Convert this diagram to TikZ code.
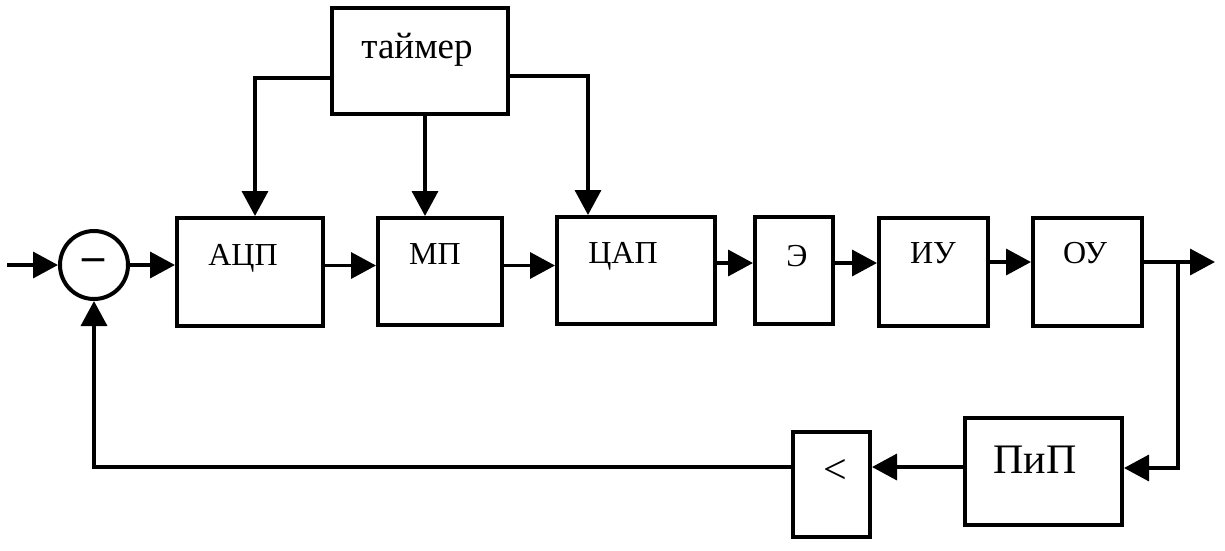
\documentclass[tikz,border=0pt]{standalone}
\usepackage{fontspec}
\setmainfont{Liberation Serif}
\usetikzlibrary{arrows.meta}
\begin{document}
\begin{tikzpicture}[x=1pt,y=-1pt,
  blk/.style={draw, line width=4pt, rectangle, inner sep=0pt},
  arr/.style={line width=3.5pt, -{Triangle[length=25pt,width=26pt]}},
  lbl/.style={anchor=base, inner sep=0pt, font=\fontsize{32}{36}\selectfont},
  big/.style={anchor=base, inner sep=0pt, font=\fontsize{42}{46}\selectfont}]
\useasboundingbox (0,0) rectangle (1225,550);
% blocks
\node[blk, minimum width=146pt, minimum height=108pt] (adc) at (250,272) {};
\node[blk, minimum width=124pt, minimum height=107pt] (mp) at (440,271.5) {};
\node[blk, minimum width=158pt, minimum height=107pt] (dac) at (636,270.5) {};
\node[blk, minimum width=78pt, minimum height=107pt] (e) at (794,270.5) {};
\node[blk, minimum width=109pt, minimum height=108pt] (iu) at (933.5,272) {};
\node[blk, minimum width=109pt, minimum height=108pt] (ou) at (1087.5,272) {};
\node[blk, minimum width=176pt, minimum height=106pt] (tmr) at (420,61) {};
\node[blk, minimum width=157pt, minimum height=107pt] (pip) at (1043.5,471.5) {};
\node[blk, minimum width=77pt, minimum height=105pt] (cmp) at (831.5,484.5) {};
\node[draw, circle, line width=4pt, minimum size=68pt, inner sep=0pt] (sum) at (94,265) {};
% labels
\node[lbl] (tadc) at (243,265) {АЦП};
\node[lbl] (tmp) at (435,264) {МП};
\node[lbl] (tdac) at (623,263) {ЦАП};
\node[lbl] (te) at (797,266) {Э};
\node[lbl] (tiu) at (933,263) {ИУ};
\node[lbl] (tou) at (1085,263) {ОУ};
\node[anchor=base, inner sep=0pt, font=\fontsize{37}{42}\selectfont] (ttmr) at (417,58) {таймер};
\node[big] (tpip) at (1035,473) {ПиП};
\node[big] (tcmp) at (835,483) {<};
\node[inner sep=0pt, font=\fontsize{44}{48}\selectfont\bfseries] (minus) at (93,265) {–};
% helper coordinates
\coordinate (in) at (7,265);
\coordinate (r1) at (0,265.5);
\coordinate (r2) at (0,263);
\coordinate (out) at (1215,262);
\coordinate (br) at (1178,262);
\coordinate (fb) at (0,467);
% forward path
\draw[arr] (in) -- (sum.west);
\draw[arr] (sum.east) -- (sum.east -| adc.west);
\draw[arr] (adc.east |- r1) -- (mp.west |- r1);
\draw[arr] (mp.east |- r1) -- (dac.west |- r1);
\draw[arr] (dac.east |- r2) -- (e.west |- r2);
\draw[arr] (e.east |- r2) -- (iu.west |- r2);
\draw[arr] (iu.east |- out) -- (ou.west |- out);
\draw[arr] (ou.east |- out) -- (out);
% timer
\draw[arr] ([yshift=-17pt]tmr.west) -| ([xshift=5pt]adc.north);
\draw[arr] ([xshift=5pt]tmr.south) -- ([xshift=5pt]tmr.south |- mp.north);
\draw[arr] ([yshift=-15pt]tmr.east) -| ([xshift=-48pt]dac.north);
% feedback
\draw[arr] (br) |- ([yshift=3.5pt]pip.east);
\draw[arr] (pip.west |- fb) -- (cmp.east |- fb);
\draw[arr] (cmp.west |- fb) -| (sum.south);
\end{tikzpicture}
\end{document}
